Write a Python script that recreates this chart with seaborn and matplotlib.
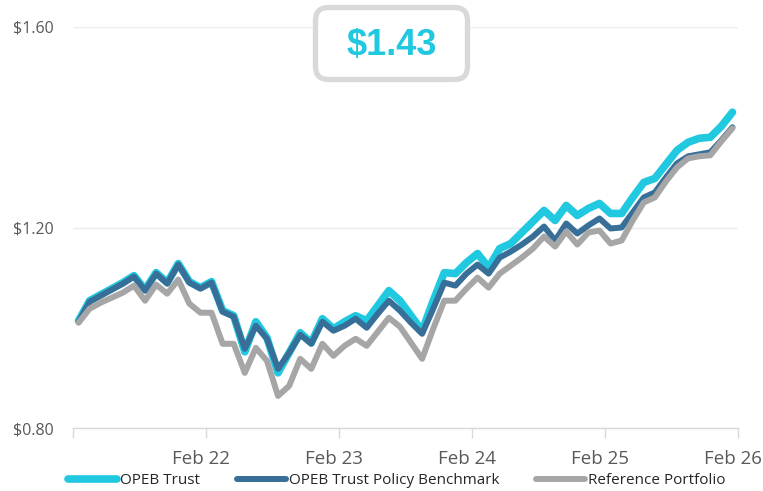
import matplotlib
matplotlib.use("Agg")
import matplotlib.pyplot as plt
from matplotlib.patches import FancyBboxPatch
from matplotlib.transforms import IdentityTransform, ScaledTranslation
import numpy as np
import seaborn as sns

# Growth of $1, monthly, Mar 21 - Feb 26
opeb_trust = [
    1.014, 1.054, 1.066, 1.078, 1.090, 1.104, 1.076, 1.110, 1.090, 1.128, 1.092, 1.080,
    1.092, 1.034, 1.024, 0.952, 1.012, 0.980, 0.910, 0.950, 0.990, 0.970, 1.018, 0.998,
    1.012, 1.024, 1.014, 1.044, 1.074, 1.054, 1.024, 0.994, 1.054, 1.110, 1.108, 1.130,
    1.148, 1.120, 1.158, 1.168, 1.190, 1.212, 1.234, 1.214, 1.244, 1.224, 1.238, 1.248,
    1.228, 1.228, 1.260, 1.290, 1.298, 1.326, 1.354, 1.370, 1.378, 1.380, 1.402, 1.430,
]
policy_benchmark = [
    1.012, 1.052, 1.064, 1.076, 1.088, 1.102, 1.074, 1.108, 1.088, 1.126, 1.090, 1.078,
    1.090, 1.032, 1.022, 0.958, 1.004, 0.978, 0.918, 0.950, 0.986, 0.968, 1.012, 0.994,
    1.004, 1.018, 1.000, 1.028, 1.054, 1.034, 1.010, 0.988, 1.038, 1.090, 1.084, 1.108,
    1.126, 1.108, 1.140, 1.152, 1.166, 1.182, 1.202, 1.174, 1.208, 1.188, 1.204, 1.218,
    1.198, 1.200, 1.230, 1.260, 1.270, 1.300, 1.328, 1.342, 1.346, 1.350, 1.374, 1.400,
]
reference_portfolio = [
    1.010, 1.038, 1.050, 1.060, 1.070, 1.084, 1.054, 1.086, 1.068, 1.096, 1.048, 1.030,
    1.030, 0.968, 0.968, 0.910, 0.960, 0.934, 0.864, 0.884, 0.938, 0.918, 0.968, 0.944,
    0.964, 0.978, 0.964, 0.992, 1.020, 1.002, 0.970, 0.938, 0.998, 1.054, 1.054, 1.078,
    1.100, 1.080, 1.108, 1.124, 1.140, 1.158, 1.182, 1.162, 1.192, 1.166, 1.190, 1.194,
    1.168, 1.174, 1.214, 1.250, 1.260, 1.292, 1.320, 1.338, 1.342, 1.344, 1.372, 1.398,
]
series_names = ["OPEB Trust", "OPEB Trust Policy Benchmark", "Reference Portfolio"]
tick_labels = ["", "Feb 22", "Feb 23", "Feb 24", "Feb 25", "Feb 26"]
y_ticks = [0.80, 1.20, 1.60]
ending_value = "$1.43"

CYAN = "#20c8e0"
NAVY = "#386f98"
GRAY = "#a6a6a6"
TEXT = "#595959"

months = np.arange(len(opeb_trust))

sns.set_theme(style="white")
plt.rcParams["font.family"] = ["Open Sans", "DejaVu Sans"]

fig = plt.figure(figsize=(7.63, 4.91), dpi=100)
ax = fig.add_axes([73 / 763, 1 - 428 / 491, 665 / 763, 401 / 491])

styles = [(CYAN, 5.5), (NAVY, 4.3), (GRAY, 4.3)]
for name, values, (color, lw) in zip(series_names, [opeb_trust, policy_benchmark, reference_portfolio], styles):
    sns.lineplot(x=months, y=values, ax=ax, color=color, linewidth=lw, label=name,
                 solid_capstyle="round", solid_joinstyle="round")

ax.set_xlim(-0.5, 59.5)
ax.set_ylim(0.80, 1.60)
ax.set_xticks(np.arange(-0.5, 60, 12))
ax.set_xticklabels(tick_labels, fontsize=13.5, color=TEXT)
ax.set_yticks(y_ticks)
ax.set_yticklabels([f"${v:.2f}" for v in y_ticks], fontsize=11.5, color=TEXT)
ax.tick_params(axis="x", length=7, width=1, color="#d9d9d9", pad=9, bottom=True)
ax.tick_params(axis="y", length=0, pad=14)

# x labels sit a little left of their ticks
shift = ScaledTranslation(-5 / 100, 0, fig.dpi_scale_trans)
for lbl in ax.get_xticklabels():
    lbl.set_transform(lbl.get_transform() + shift)

ax.yaxis.grid(True, color="#ececec", linewidth=1)
ax.xaxis.grid(False)
for side in ["top", "left", "right"]:
    ax.spines[side].set_visible(False)
ax.spines["bottom"].set_color("#d9d9d9")
ax.spines["bottom"].set_linewidth(1)
ax.set_xlabel("")
ax.set_ylabel("")

ax.legend(loc="center", bbox_to_anchor=(397 / 763, 10 / 491), bbox_transform=fig.transFigure,
          ncol=3, frameon=False, fontsize=11, handlelength=3.2, handletextpad=0.2,
          columnspacing=2.4)

# ending value callout box
box = FancyBboxPatch((315.5, 411.5), 152, 72, boxstyle="round,pad=0,rounding_size=13",
                     transform=IdentityTransform(), facecolor="white", edgecolor="#d9d9d9",
                     linewidth=3.8, zorder=5)
fig.patches.append(box)
fig.text(391.5 / 763, 1 - 45 / 491, ending_value, ha="center", va="center", fontsize=26,
         fontweight="bold", color=CYAN, family=["Liberation Sans", "DejaVu Sans"], zorder=6)

fig.savefig("out.png", dpi=100)
